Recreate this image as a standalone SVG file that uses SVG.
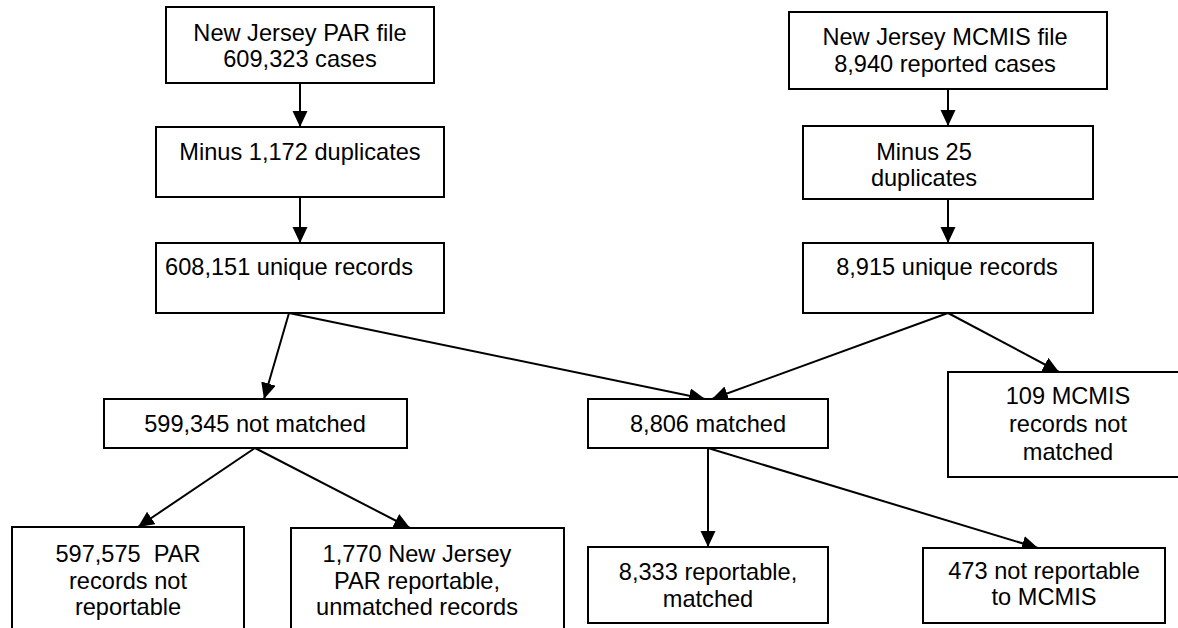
<svg xmlns="http://www.w3.org/2000/svg" width="1178" height="628" viewBox="0 0 1178 628">
  <style>
    .box { fill: #fff; stroke: #000; stroke-width: 2; }
    .lbl { font-family: "Liberation Sans", Arial, sans-serif; font-size: 23.6px; fill: #000; text-anchor: middle; }
    .edge { fill: none; stroke: #000; stroke-width: 2; marker-end: url(#arrow); }
  </style>
  <defs>
    <marker id="arrow" markerUnits="userSpaceOnUse" markerWidth="17" markerHeight="16" refX="16" refY="7.5" orient="auto">
      <path d="M0,0 L16,7.5 L0,15 z" fill="#000"/>
    </marker>
  </defs>
  <rect width="1178" height="628" fill="#fff"/>

  <g id="connectors">
    <line class="edge" x1="300" y1="83" x2="300" y2="127"/>
    <line class="edge" x1="300" y1="197" x2="300" y2="243"/>
    <line class="edge" x1="948" y1="89" x2="948" y2="126"/>
    <line class="edge" x1="948" y1="199" x2="948" y2="243"/>
    <line class="edge" x1="289" y1="313" x2="264" y2="399"/>
    <line class="edge" x1="289" y1="313" x2="705" y2="399"/>
    <line class="edge" x1="948" y1="313" x2="712" y2="399"/>
    <line class="edge" x1="948" y1="313" x2="1059" y2="372"/>
    <line class="edge" x1="255" y1="448" x2="138" y2="527"/>
    <line class="edge" x1="255" y1="448" x2="410" y2="528"/>
    <line class="edge" x1="708" y1="448" x2="708" y2="547"/>
    <line class="edge" x1="708" y1="448" x2="1038" y2="548"/>
  </g>

  <g id="par-file">
    <rect class="box" x="166" y="7" width="268" height="76"/>
    <text class="lbl" x="300" y="41">New Jersey PAR file</text>
    <text class="lbl" x="300" y="67">609,323 cases</text>
  </g>
  <g id="par-dupes">
    <rect class="box" x="156" y="127" width="288" height="70"/>
    <text class="lbl" x="300" y="160">Minus 1,172 duplicates</text>
  </g>
  <g id="par-unique">
    <rect class="box" x="156" y="243" width="288" height="70"/>
    <text class="lbl" x="289" y="275">608,151 unique records</text>
  </g>

  <g id="mcmis-file">
    <rect class="box" x="789" y="12" width="318" height="77"/>
    <text class="lbl" x="945" y="45">New Jersey MCMIS file</text>
    <text class="lbl" x="945" y="72">8,940 reported cases</text>
  </g>
  <g id="mcmis-dupes">
    <rect class="box" x="803" y="126" width="290" height="73"/>
    <text class="lbl" x="924" y="160">Minus 25</text>
    <text class="lbl" x="924" y="186">duplicates</text>
  </g>
  <g id="mcmis-unique">
    <rect class="box" x="803" y="243" width="290" height="70"/>
    <text class="lbl" x="947" y="275">8,915 unique records</text>
  </g>

  <g id="not-matched">
    <rect class="box" x="104" y="399" width="303" height="49"/>
    <text class="lbl" x="255" y="432">599,345 not matched</text>
  </g>
  <g id="matched">
    <rect class="box" x="588" y="399" width="240" height="49"/>
    <text class="lbl" x="708" y="432">8,806 matched</text>
  </g>
  <g id="mcmis-not-matched">
    <rect class="box" x="948" y="372" width="242" height="105"/>
    <text class="lbl" x="1068" y="404">109 MCMIS</text>
    <text class="lbl" x="1068" y="432">records not</text>
    <text class="lbl" x="1068" y="460">matched</text>
  </g>

  <g id="par-not-reportable">
    <rect class="box" x="12" y="527" width="232" height="110"/>
    <text class="lbl" x="128" y="562" xml:space="preserve">597,575  PAR</text>
    <text class="lbl" x="128" y="589">records not</text>
    <text class="lbl" x="128" y="615">reportable</text>
  </g>
  <g id="par-reportable-unmatched">
    <rect class="box" x="291" y="528" width="273" height="110"/>
    <text class="lbl" x="417" y="562">1,770 New Jersey</text>
    <text class="lbl" x="417" y="589">PAR reportable,</text>
    <text class="lbl" x="417" y="615">unmatched records</text>
  </g>
  <g id="reportable-matched">
    <rect class="box" x="588" y="547" width="240" height="76"/>
    <text class="lbl" x="708" y="580">8,333 reportable,</text>
    <text class="lbl" x="708" y="607">matched</text>
  </g>
  <g id="not-reportable">
    <rect class="box" x="923" y="548" width="242" height="75"/>
    <text class="lbl" x="1044" y="579">473 not reportable</text>
    <text class="lbl" x="1044" y="605">to MCMIS</text>
  </g>
</svg>
